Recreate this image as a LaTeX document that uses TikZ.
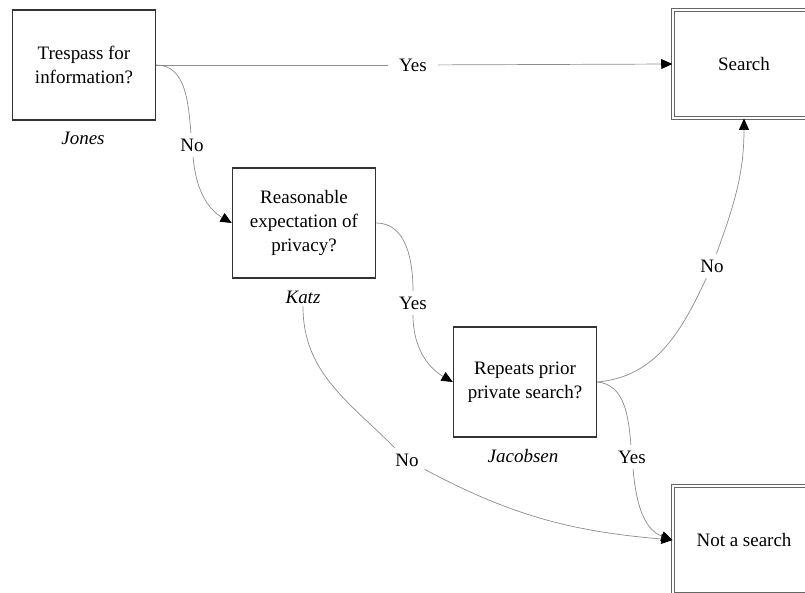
\documentclass[tikz,border=0pt]{standalone}
\usepackage{fontspec}
\setmainfont{Liberation Serif}
\usetikzlibrary{arrows.meta}

\begin{document}
\begin{tikzpicture}[x=0.025cm,y=-0.025cm,
  every node/.style={font=\fontsize{13.5}{17}\selectfont,align=center},
  qbox/.style={draw=black!80,line width=1pt,minimum width=3.575cm,minimum height=2.75cm,inner sep=0pt},
  endbox/.style={draw=black!60,double=white,double distance=1.3pt,line width=0.7pt,minimum width=3.55cm,minimum height=2.7cm,inner sep=0pt},
  lab/.style={inner sep=4pt},
  case/.style={font=\fontsize{13.5}{17}\selectfont\itshape,inner sep=2pt},
  edge/.style={draw=myGray,line width=0.5pt},
  tip/.style={-{Triangle[length=8pt,width=7pt,color=black,fill=black]}}]
% Colors define
\definecolor{myGray}{HTML}{8C8C8C}

% Frame of the page
\useasboundingbox (0,0) rectangle (805,593);
\clip (0,0) rectangle (805,593);

% Question boxes
\node[qbox] (tres) at (84,65) {Trespass for\\information?};
\node[qbox] (reas) at (304,223) {Reasonable\\expectation of\\privacy?};
\node[qbox] (rep) at (525,382) {Repeats prior\\private search?};

% Answer boxes
\node[endbox] (search) at (744,64) {Search};
\node[endbox] (nas) at (744,540) {Not a search};

% Cases
\node[case] (jones) at (83,138) {Jones};
\node[case] (katz) at (303,297) {Katz};
\node[case] (jacobsen) at (523,456) {Jacobsen};

% Edge labels
\node[lab,inner xsep=8pt] (yes1) at (413,65) {Yes};
\node[lab] (no1) at (192,145) {No};
\node[lab] (yes2) at (413,303) {Yes};
\node[lab] (no2) at (712,266) {No};
\node[lab] (yes3) at (632,457) {Yes};
\node[lab] (no3) at (407,460) {No};

% Edges
\draw[edge] (tres.east) -- (yes1);
\draw[edge,tip] (yes1) -- (search.west);
\draw[edge] (tres.east) to[out=0,in=95] (no1);
\draw[edge,tip] (no1) to[out=-85,in=150] (reas.west);
\draw[edge] (reas.east) to[out=0,in=90] (yes2);
\draw[edge,tip] (yes2) to[out=-90,in=150] (rep.west);
\draw[edge] (rep.east) to[out=5,in=-115] (no2);
\draw[edge,tip] (no2) to[out=70,in=-90] (search.south);
\draw[edge] (rep.east) to[out=-5,in=95] (yes3);
\draw[edge,tip] (yes3) to[out=-85,in=160] (nas.west);
\draw[edge] (katz) to[out=-90,in=135] (no3);
\draw[edge,tip] (no3) to[out=-28,in=175] (nas.west);
\end{tikzpicture}
\end{document}
